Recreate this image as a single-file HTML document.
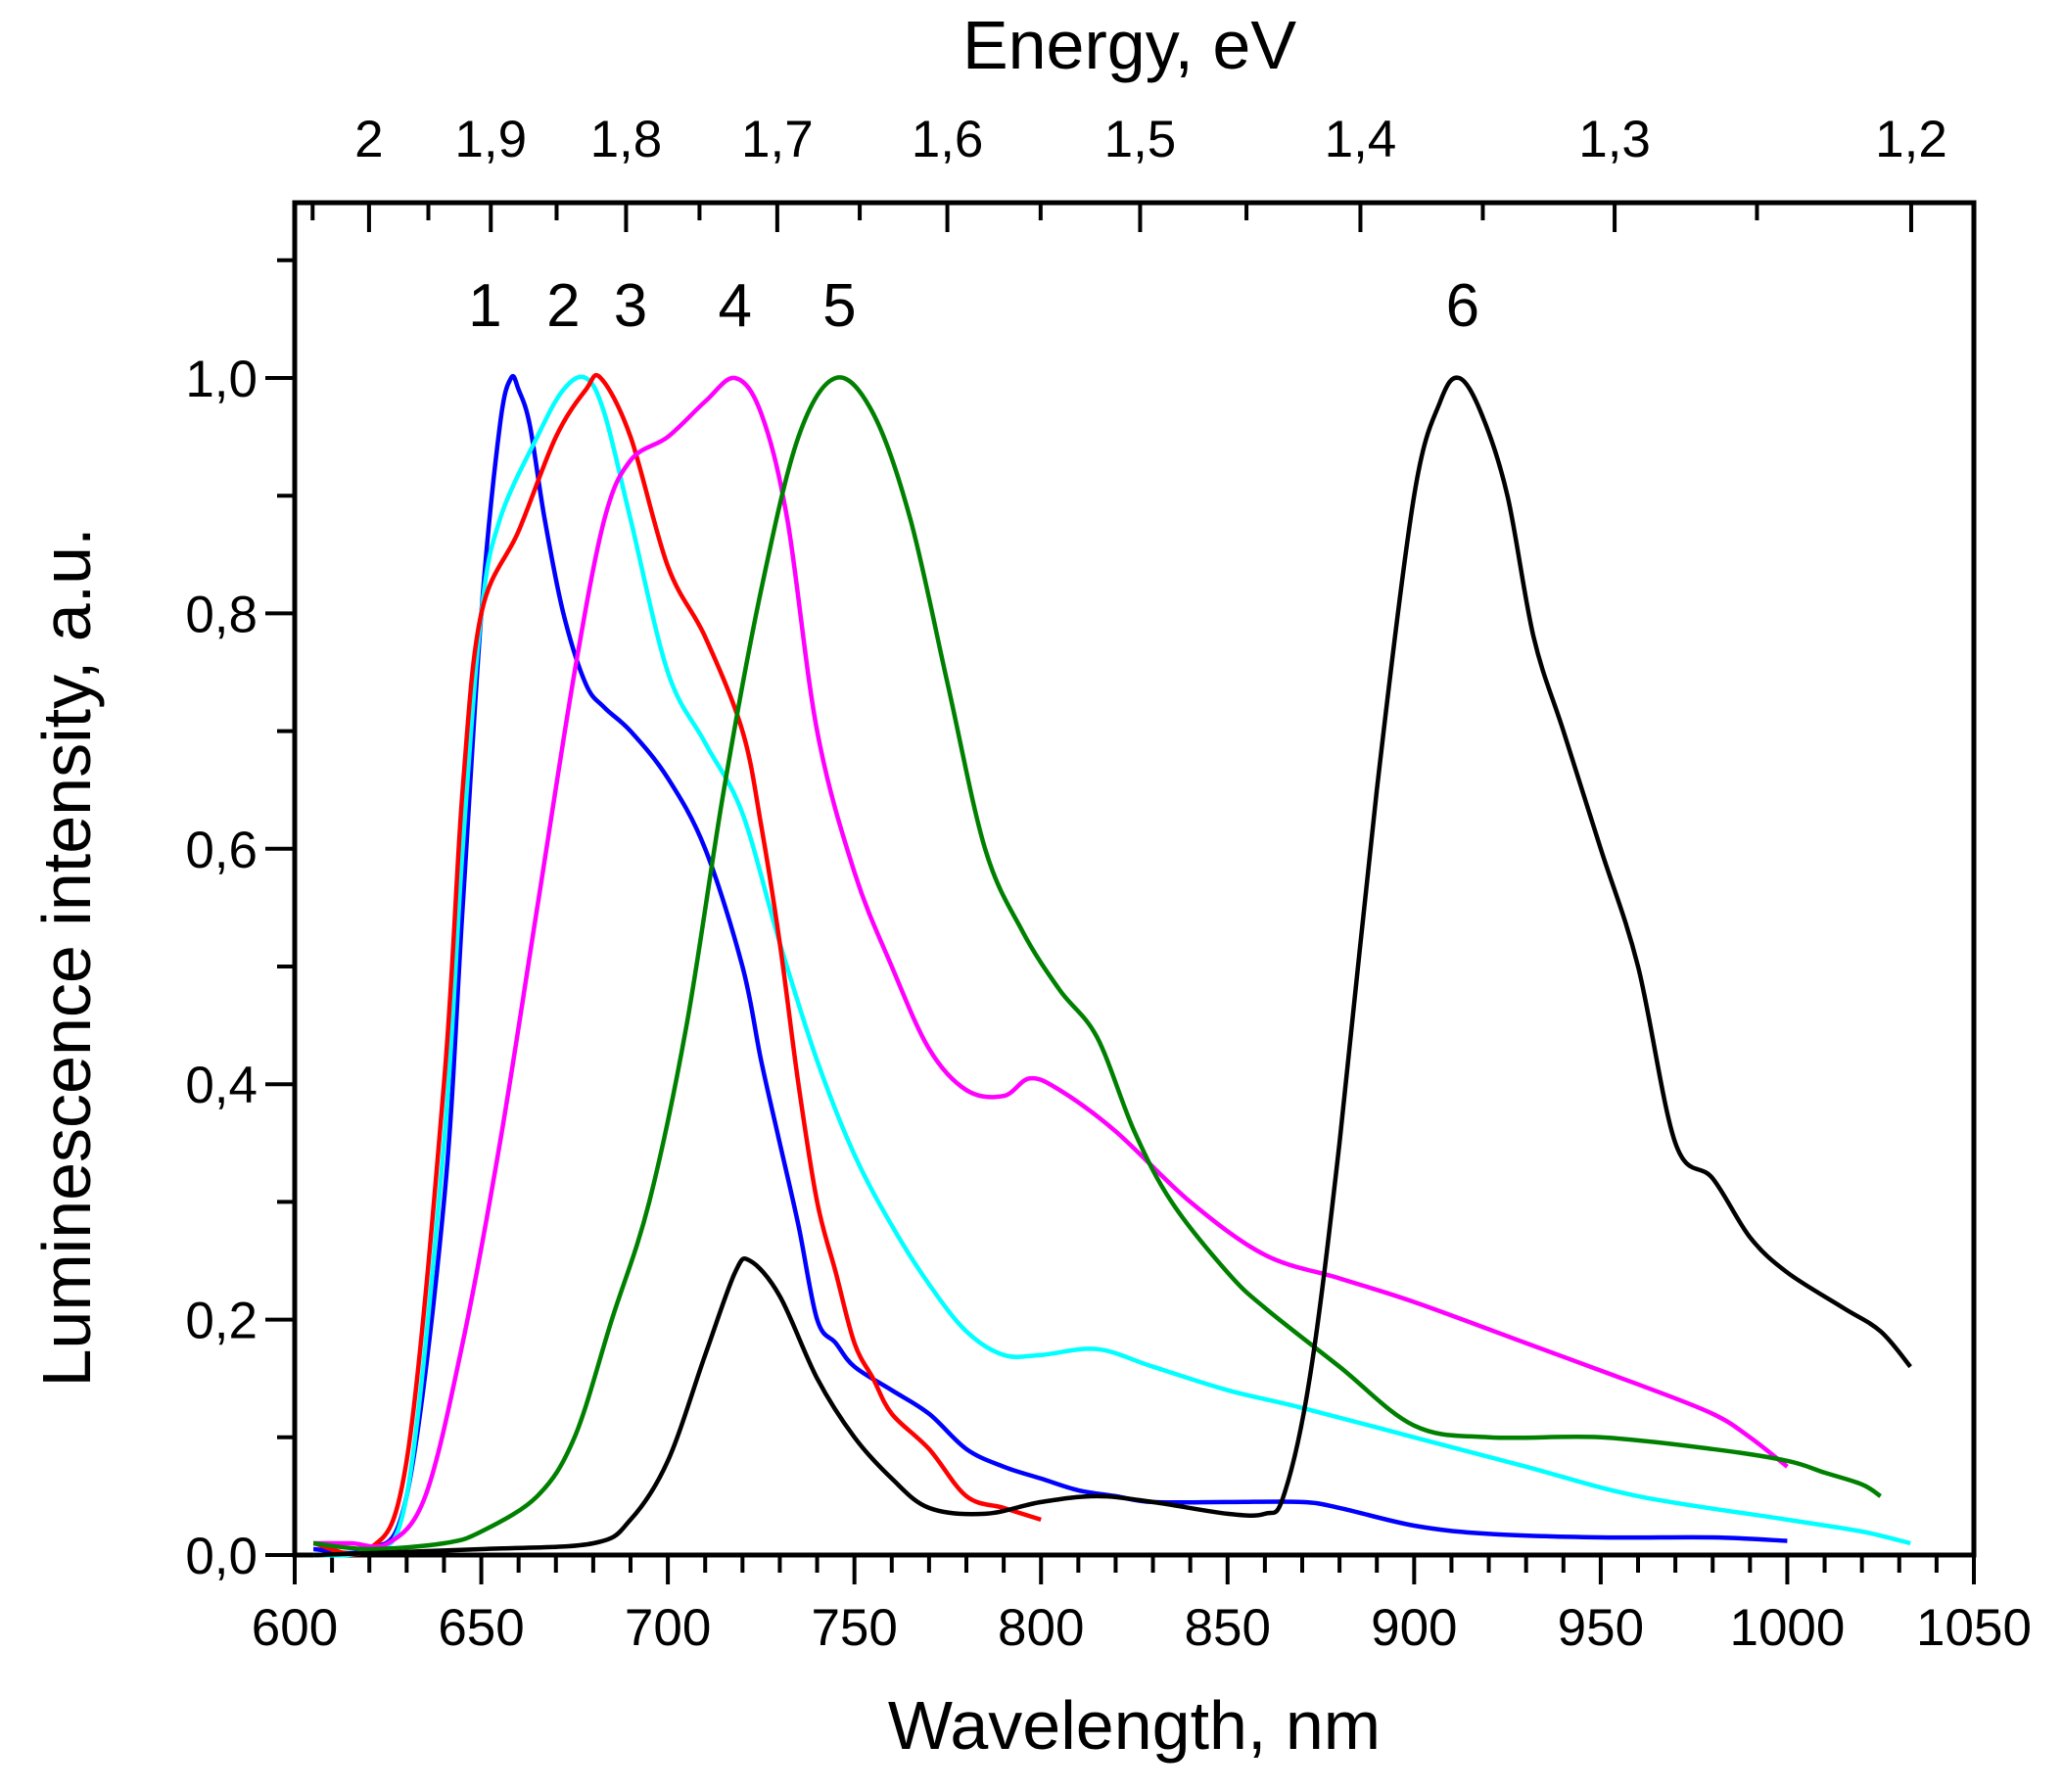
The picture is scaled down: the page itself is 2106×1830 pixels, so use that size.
<!DOCTYPE html>
<html><head><meta charset="utf-8">
<style>
html,body{margin:0;padding:0;background:#fff;}
svg{display:block;font-family:"Liberation Sans",Arial,sans-serif;}
</style></head>
<body>
<svg id="chart" width="2106" height="1830" viewBox="0 0 2106 1830" xmlns="http://www.w3.org/2000/svg">
<rect width="2106" height="1830" fill="#fff"/>
<g id="axes"></g>
<g id="series"></g>
<g id="labels"></g>
</svg>
<script>
const xTicks = [600,650,700,750,800,850,900,950,1000,1050];
const yTicks = [0,0.2,0.4,0.6,0.8,1.0];
const yTickLabels = ["0,0","0,2","0,4","0,6","0,8","1,0"];
const eTicks = [2.0,1.9,1.8,1.7,1.6,1.5,1.4,1.3,1.2];
const eTickLabels = ["2","1,9","1,8","1,7","1,6","1,5","1,4","1,3","1,2"];
const curveNames = ["1","2","3","4","5","6"];
const curveLabelX = [651,672,690,718,746,913];

const s1x=[605,620,630,640,645,650,655,658,660,663,667,672,678,683,690,700,710,720,725,730,735,740,745,750,760,770,780,790,800,810,820,830,850,870,880,900,920,950,980,1000];
const s1y=[0.005,0.005,0.05,0.3,0.55,0.8,0.96,1.0,0.99,0.96,0.88,0.8,0.74,0.72,0.7,0.66,0.6,0.5,0.42,0.35,0.28,0.2,0.18,0.16,0.14,0.12,0.09,0.075,0.065,0.055,0.05,0.045,0.045,0.045,0.04,0.025,0.018,0.015,0.015,0.012];
const s2x=[605,620,630,640,645,650,655,665,672,678,683,690,700,710,720,730,740,750,760,770,780,790,800,815,830,850,870,900,930,960,1000,1020,1033];
const s2y=[0.0,0.005,0.05,0.35,0.6,0.8,0.88,0.95,0.99,1.0,0.97,0.88,0.75,0.69,0.63,0.52,0.42,0.34,0.28,0.23,0.19,0.17,0.17,0.175,0.16,0.14,0.125,0.1,0.075,0.05,0.03,0.02,0.01];
const s3x=[605,620,630,640,645,650,660,670,678,682,690,700,710,720,725,730,735,740,745,750,755,760,770,780,790,800];
const s3y=[0.01,0.005,0.08,0.4,0.65,0.8,0.87,0.95,0.99,1.0,0.95,0.84,0.78,0.7,0.62,0.52,0.4,0.3,0.24,0.18,0.15,0.12,0.09,0.05,0.04,0.03];
const s4x=[605,615,625,635,645,655,665,675,683,690,700,710,718,725,732,740,750,760,770,780,790,797,805,820,840,860,880,900,930,960,980,990,1000];
const s4y=[0.01,0.01,0.01,0.05,0.18,0.35,0.55,0.75,0.88,0.93,0.95,0.98,1.0,0.97,0.88,0.7,0.58,0.5,0.43,0.395,0.39,0.405,0.395,0.36,0.3,0.255,0.235,0.215,0.18,0.145,0.12,0.1,0.075];
const s5x=[605,620,640,650,665,675,685,695,705,715,725,735,745,755,765,775,785,795,805,815,825,835,850,860,880,900,920,950,980,1000,1010,1020,1025];
const s5y=[0.01,0.005,0.01,0.02,0.05,0.1,0.2,0.3,0.45,0.65,0.82,0.95,1.0,0.97,0.88,0.74,0.6,0.53,0.48,0.44,0.36,0.3,0.24,0.21,0.16,0.11,0.1,0.1,0.09,0.08,0.07,0.06,0.05];
const s6x=[605,650,680,690,700,710,718,722,730,740,750,760,770,785,800,815,830,850,860,865,872,880,890,900,907,912,918,925,932,940,950,960,970,980,990,1000,1015,1025,1033];
const s6y=[0.0,0.005,0.01,0.03,0.08,0.17,0.24,0.25,0.22,0.15,0.1,0.065,0.04,0.035,0.045,0.05,0.045,0.035,0.035,0.05,0.15,0.35,0.65,0.9,0.98,1.0,0.97,0.9,0.78,0.7,0.6,0.5,0.35,0.32,0.27,0.24,0.21,0.19,0.16];
const seriesX=[s1x,s2x,s3x,s4x,s5x,s6x];
const seriesY=[s1y,s2y,s3y,s4y,s5y,s6y];
const colors=["#0000ff","#00ffff","#ff0000","#ff00ff","#008000","#000000"];

const L=301,R=2016,B=1588,T=207;
const X=v=>L+(v-600)/450*(R-L);
const Y=v=>B-v*1202;
const NS="http://www.w3.org/2000/svg";
function mk(tag,attrs,parent,txt){const e=document.createElementNS(NS,tag);for(const k in attrs)e.setAttribute(k,attrs[k]);if(txt!==undefined)e.textContent=txt;parent.appendChild(e);return e;}
const axes=document.getElementById('axes'),ser=document.getElementById('series'),lab=document.getElementById('labels');

const frame=mk('rect',{x:L,y:T,width:R-L,height:B-T,fill:'none',stroke:'#000','stroke-width':5},axes);



for(let v=600;v<=1050;v+=10){
  const major=(v%50===0);
  const t=mk('line',{x1:X(v),x2:X(v),y1:B,y2:B+(major?30:18),stroke:'#000','stroke-width':4},axes);
  
  
}
xTicks.forEach(v=>{
  const t=mk('text',{x:X(v),y:1680,'font-size':53,'text-anchor':'middle'},lab,String(v));
  
  
});
for(let i=0;i<=11;i++){
  const v=i*0.1,major=(i%2===0);
  const t=mk('line',{x1:L,x2:L-(major?30:18),y1:Y(v),y2:Y(v),stroke:'#000','stroke-width':4},axes);
  
  
}
yTicks.forEach((v,i)=>{
  const t=mk('text',{x:263,y:Y(v)+19,'font-size':53,'text-anchor':'end'},lab,yTickLabels[i]);
  
  
});
for(let e=2.05;e>=1.199;e-=0.05){
  const lam=1239.84/e; if(lam<600||lam>1050) continue;
  const major=Math.abs(Math.round(e*10)-e*10)<0.01;
  const t=mk('line',{x1:X(lam),x2:X(lam),y1:T,y2:T+(major?30:18),stroke:'#000','stroke-width':4},axes);
  
  
}
eTicks.forEach((e,i)=>{
  const t=mk('text',{x:X(1239.84/e),y:160,'font-size':53,'text-anchor':'middle'},lab,eTickLabels[i]);
  
  
});
let tt=mk('text',{x:(L+R)/2,y:1786,'font-size':70,'text-anchor':'middle'},lab,'Wavelength, nm');


tt=mk('text',{x:(L+R)/2-5,y:70,'font-size':70,'text-anchor':'middle'},lab,'Energy, eV');


tt=mk('text',{x:0,y:0,'font-size':70,'text-anchor':'middle',transform:'translate(92,'+((T+B)/2+80)+') rotate(-90)'},lab,'Luminescence intensity, a.u.');



function smoothPath(px,py){
  let d='M'+px[0].toFixed(1)+','+py[0].toFixed(1);
  for(let i=0;i<px.length-1;i++){
    const x0=px[Math.max(0,i-1)],y0=py[Math.max(0,i-1)];
    const x1=px[i],y1=py[i],x2=px[i+1],y2=py[i+1];
    const x3=px[Math.min(px.length-1,i+2)],y3=py[Math.min(px.length-1,i+2)];
    const k=1/6;
    d+=' C'+(x1+(x2-x0)*k).toFixed(1)+','+(y1+(y2-y0)*k).toFixed(1)+' '+(x2-(x3-x1)*k).toFixed(1)+','+(y2-(y3-y1)*k).toFixed(1)+' '+x2.toFixed(1)+','+y2.toFixed(1);
  }
  return d;
}
seriesX.forEach((xs,si)=>{
  const px=xs.map(X), py=seriesY[si].map(Y);
  const p=mk('path',{d:smoothPath(px,py),fill:'none',stroke:colors[si],'stroke-width':4.5,'stroke-linejoin':'round'},ser);
  
  
});
curveNames.forEach((n,i)=>{
  const t=mk('text',{x:X(curveLabelX[i]),y:333,'font-size':62,'text-anchor':'middle'},lab,n);
  
  
});
</script>
</body></html>
